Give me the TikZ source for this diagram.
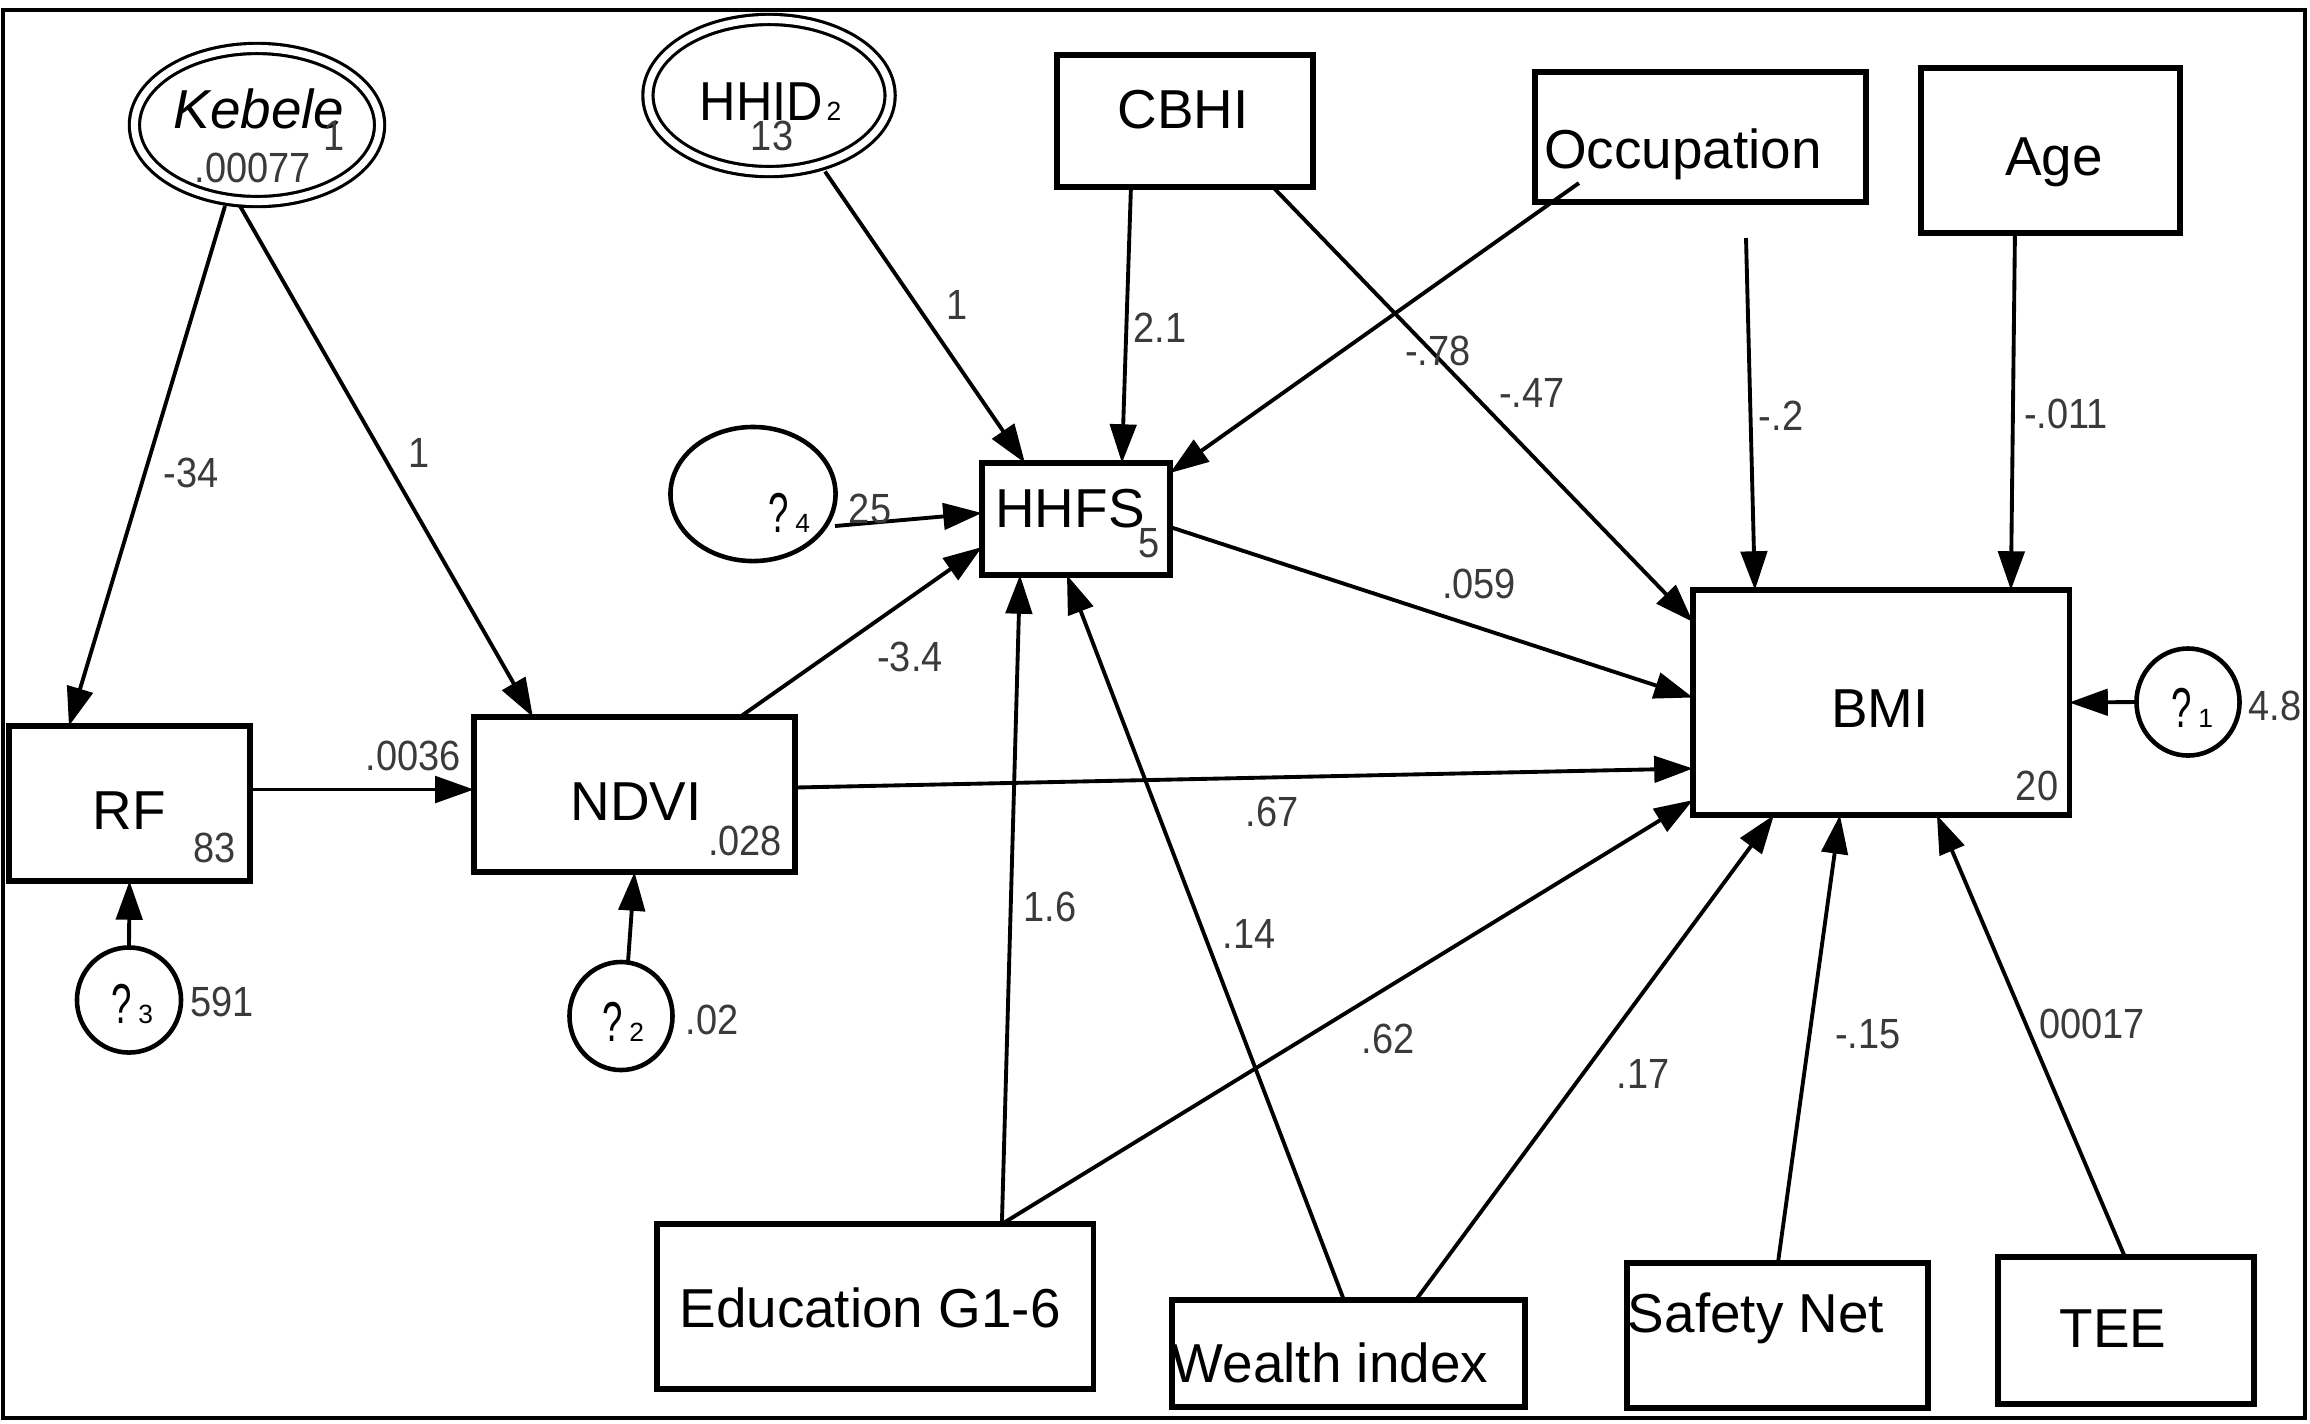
\documentclass[tikz,border=0pt]{standalone}
\usepackage{fontspec}
\usepackage{graphicx}
\setmainfont{Liberation Sans}
\newfontfamily\lblfont[FakeStretch=0.9]{Liberation Sans}
\usetikzlibrary{shapes.geometric,arrows.meta,calc}
\definecolor{lblgray}{HTML}{3A3A3A}
\begin{document}
\begin{tikzpicture}[x=0.01cm,y=-0.01cm,
  box/.style={draw, rectangle, line width=1.5pt, inner sep=0pt, outer sep=0pt},
  circ/.style={draw, ellipse, line width=1.3pt, inner sep=0pt, outer sep=0pt},
  dblell/.style={draw, ellipse, double, double distance=2pt, line width=0.9pt, inner sep=0pt, outer sep=0pt},
  txt/.style={font=\fontsize{15.6}{15.6}\selectfont, inner sep=0pt, anchor=base},
  lbl/.style={font=\lblfont\fontsize{12}{12}\selectfont, text=lblgray, inner sep=0pt, anchor=base},
  qm/.style={font=\fontsize{16}{16}\selectfont, inner sep=0pt, anchor=base west},
  arr/.style={-{Triangle[length=11pt,width=7.5pt]}, line width=1.1pt},
]
\fill[white] (0,0) rectangle (2310,1423);
\useasboundingbox (0,0) rectangle (2310,1423);
\draw[line width=1.3pt] (3,10) rectangle (2305,1418);

% ---------- boxes ----------
\node[box, minimum width=2.41cm, minimum height=1.55cm] (rf) at (129.5,803.5) {};
\node[box, minimum width=3.21cm, minimum height=1.55cm] (ndvi) at (634.5,794.5) {};
\node[box, minimum width=1.88cm, minimum height=1.12cm] (hhfs) at (1076,519) {};
\node[box, minimum width=3.76cm, minimum height=2.25cm] (bmi) at (1881,702.5) {};
\node[box, minimum width=2.56cm, minimum height=1.32cm] (cbhi) at (1185,121) {};
\node[box, minimum width=3.31cm, minimum height=1.30cm] (occ) at (1700.5,137) {};
\node[box, minimum width=2.59cm, minimum height=1.65cm] (age) at (2050.5,150.5) {};
\node[box, minimum width=4.36cm, minimum height=1.65cm] (edu) at (875,1306.5) {};
\node[box, minimum width=3.53cm, minimum height=1.07cm] (wealth) at (1348.5,1353.5) {};
\node[box, minimum width=3.01cm, minimum height=1.45cm] (safety) at (1777.5,1335.5) {};
\node[box, minimum width=2.56cm, minimum height=1.47cm] (tee) at (2126,1330.5) {};

% ---------- ellipses ----------
\node[dblell, minimum width=2.45cm, minimum height=1.53cm] (keb) at (257,125) {};
\node[dblell, minimum width=2.42cm, minimum height=1.52cm] (hhid) at (769,95.5) {};
\node[circ, minimum width=1.03cm, minimum height=1.07cm] (e1) at (2188,702) {};
\node[circ, minimum width=1.03cm, minimum height=1.08cm] (e2) at (621,1016) {};
\node[circ, minimum width=1.04cm, minimum height=1.05cm] (e3) at (129,1000) {};
\node[circ, minimum width=1.65cm, minimum height=1.34cm] (e4) at (753,494) {};

% ---------- main texts ----------
\node[txt] (kebt) at (259,128) {\itshape Kebele};
\node[txt, anchor=base east] (hhidt) at (824,120) {\scalebox{0.92}[1]{HHID}};
\node[anchor=base west, inner sep=0pt, font=\fontsize{7.5}{7.5}\selectfont] (hhidsub) at (826,120) {2};
\node[txt] (cbhit) at (1183,128) {CBHI};
\node[txt] (occt) at (1683,168) {Occupation};
\node[txt] (aget) at (2054,175) {Age};
\node[txt] (hhfst) at (1070,527) {HHFS};
\node[txt] (bmit) at (1880,727) {BMI};
\node[txt] (rft) at (129,829) {RF};
\node[txt] (ndvit) at (636,820) {NDVI};
\node[txt] (edut) at (870,1327) {Education G1-6};
\node[txt] (wealtht) at (1330,1382) {Wealth index};
\node[txt] (safetyt) at (1756,1332) {Safety Net};
\node[txt] (teet) at (2113,1347) {TEE};

% ---------- error terms ----------
\node[qm] (q1) at (2171,727) {\scalebox{0.65}[1]{?}\hspace{1.8pt}{\fontsize{7.5}{7.5}\selectfont 1}};
\node[qm] (q2) at (602,1041) {\scalebox{0.65}[1]{?}\hspace{1.8pt}{\fontsize{7.5}{7.5}\selectfont 2}};
\node[qm] (q3) at (111,1023) {\scalebox{0.65}[1]{?}\hspace{1.8pt}{\fontsize{7.5}{7.5}\selectfont 3}};
\node[qm] (q4) at (768,532) {\scalebox{0.65}[1]{?}\hspace{1.8pt}{\fontsize{7.5}{7.5}\selectfont 4}};

% ---------- variance / intercept labels ----------
\node[lbl] (l00077) at (253,182) {.00077};
\node[lbl] (lkeb1) at (334,150) {1};
\node[lbl] (l13) at (772,150) {13};
\node[lbl] (l83) at (215,862) {83};
\node[lbl] (l028) at (745,855) {.028};
\node[lbl] (l591) at (222,1016) {591};
\node[lbl] (l02) at (712,1034) {.02};
\node[lbl] (l20) at (2037,800) {20};
\node[lbl] (l5) at (1149,557) {5};
\node[lbl] (l48) at (2275,720) {4.8};

% ---------- connectors ----------
\coordinate (free) at (1746,238);
\draw[arr] ($(keb.center)+(-32,81)$) -- ($(rf.north west)+(60,0)$);
\draw[arr] ($(keb.center)+(-17,81)$) -- ($(ndvi.north west)+(59,0)$);
\draw[arr] ($(hhid.center)+(56,76)$) -- ($(hhfs.north west)+(43,0)$);
\draw[arr] ($(cbhi.south west)+(74,0)$) -- ($(hhfs.north west)+(140,0)$);
\draw[arr] ($(occ.south west)+(44,-19)$) -- ($(hhfs.north east)+(0,10)$);
\draw[arr] ($(cbhi.south west)+(216,0)$) -- ($(bmi.north west)+(0,32)$);
\draw[arr] (free) -- ($(bmi.north west)+(62,0)$);
\draw[arr] ($(age.south west)+(94,0)$) -- ($(bmi.north west)+(318,0)$);
\draw[arr] ($(e4.center)+(82,32)$) -- ($(hhfs.west)+(0,-6)$);
\draw[arr] ($(ndvi.north west)+(266,0)$) -- ($(hhfs.west)+(0,28)$);
\draw[arr] ($(hhfs.east)+(0,8)$) -- ($(bmi.west)+(0,-5)$);
\draw[arr] ($(ndvi.east)+(0,-7)$) -- ($(bmi.west)+(0,66)$);
\draw[arr] ($(rf.east)+(0,-14)$) -- ($(ndvi.west)+(0,-5)$);
\draw[arr] (e3.north) -- (rf.south);
\draw[arr] ($(e2.center)+(7,-54)$) -- (ndvi.south);
\draw[arr] ($(edu.north west)+(345,0)$) -- ($(hhfs.south west)+(38,0)$);
\draw[arr] ($(edu.north west)+(345,0)$) -- ($(bmi.south west)+(0,-15)$);
\draw[arr] ($(wealth.north west)+(172,0)$) -- ($(hhfs.south west)+(85,0)$);
\draw[arr] ($(wealth.north west)+(244,0)$) -- ($(bmi.south west)+(81,0)$);
\draw[arr] ($(safety.north west)+(151,0)$) -- ($(bmi.south west)+(147,0)$);
\draw[arr] ($(tee.north west)+(127,0)$) -- ($(bmi.south west)+(244,0)$);
\draw[arr] (e1.west) -- (bmi.east);

% ---------- path labels ----------
\node[lbl] (c1) at (191,487) {-34};
\node[lbl] (c2) at (419,467) {1};
\node[lbl] (c3) at (413,770) {.0036};
\node[lbl] (c4) at (870,523) {25};
\node[lbl] (c5) at (957,319) {1};
\node[lbl] (c6) at (1160,342) {2.1};
\node[lbl] (c7) at (1438,365) {-.78};
\node[lbl] (c8) at (1532,407) {-.47};
\node[lbl] (c9) at (910,671) {-3.4};
\node[lbl] (c10) at (1479,598) {.059};
\node[lbl] (c11) at (1272,826) {.67};
\node[lbl] (c12) at (1050,921) {1.6};
\node[lbl] (c13) at (1249,948) {.14};
\node[lbl] (c14) at (1388,1053) {.62};
\node[lbl] (c15) at (1643,1088) {.17};
\node[lbl] (c16) at (1868,1048) {-.15};
\node[lbl] (c17) at (2092,1038) {00017};
\node[lbl] (c18) at (1781,430) {-.2};
\node[lbl] (c19) at (2066,428) {-.011};
\end{tikzpicture}
\end{document}
